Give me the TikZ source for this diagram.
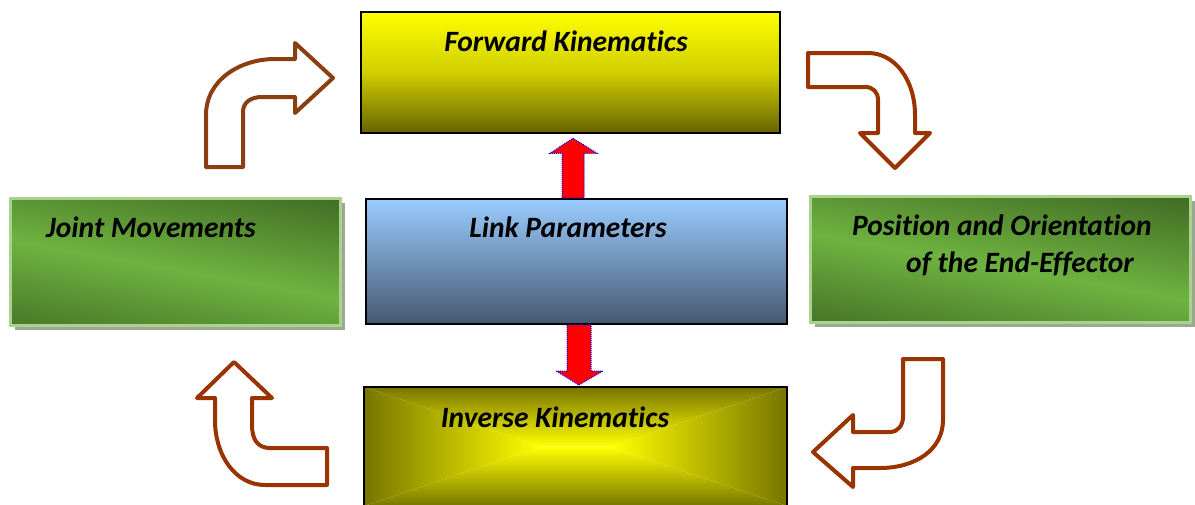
\documentclass[tikz,border=0pt]{standalone}
\usepackage{fontspec}
\setmainfont{Carlito}[Ligatures={NoCommon,NoContextual,NoRare}]
\usetikzlibrary{calc,shadows}
\definecolor{brownA}{RGB}{139,62,18}
\definecolor{brownB}{RGB}{153,51,0}
\definecolor{ylw}{RGB}{255,255,0}
\definecolor{ylwM}{RGB}{208,206,0}
\definecolor{olv}{RGB}{102,100,0}
\definecolor{olvB}{RGB}{120,117,0}
\definecolor{skyT}{RGB}{154,204,255}
\definecolor{skyB}{RGB}{68,87,111}
\definecolor{grD}{RGB}{68,112,38}
\definecolor{grL}{RGB}{110,178,64}
\definecolor{grBorder}{RGB}{168,210,142}
\definecolor{grShadow}{RGB}{156,168,146}
\pgfdeclareverticalshading{grsh}{520bp}{color(0bp)=(grD); color(25bp)=(grD); color(120bp)=(grL); color(215bp)=(grD); color(240bp)=(grD)}
\tikzset{
  txt/.style={font=\fontsize{29.5}{37}\selectfont\bfseries\itshape, inner sep=0pt, text=black, anchor=base},
  fkbox/.style={rectangle, draw=black, line width=2.5pt, top color=ylw, bottom color=olv, middle color=ylwM, minimum width=419pt, minimum height=121pt, inner sep=0pt},
  lpbox/.style={rectangle, draw=black, line width=1.8pt, top color=skyT, bottom color=skyB, minimum width=421pt, minimum height=125pt, inner sep=0pt},
  ikbox/.style={rectangle, draw=black, line width=2pt, minimum width=423pt, minimum height=119pt, inner sep=0pt,
    path picture={
      \coordinate (c1) at ($(path picture bounding box.center)+(-35,0)$);
      \coordinate (c2) at ($(path picture bounding box.center)+(35,0)$);
      \coordinate (nw) at (path picture bounding box.north west);
      \coordinate (ne) at (path picture bounding box.north east);
      \coordinate (sw) at (path picture bounding box.south west);
      \coordinate (se) at (path picture bounding box.south east);
      \shade[top color=olvB, bottom color=ylw] (nw) -- (ne) -- (c2) -- (c1) -- cycle;
      \shade[top color=ylw, bottom color=olvB] (sw) -- (se) -- (c2) -- (c1) -- cycle;
      \shade[left color=olvB, right color=ylw] (nw) -- (sw) -- (c1) -- cycle;
      \shade[left color=ylw, right color=olvB] (ne) -- (se) -- (c2) -- cycle;
    }},
  grbox/.style={rectangle, draw=grBorder, line width=3pt, fill=grD,
    drop shadow={shadow xshift=5pt, shadow yshift=-5pt, fill=grShadow, opacity=1}, inner sep=0pt,
    path picture={
      \node[rotate=-10, inner sep=0pt] at ($(path picture bounding box.center)+(0,8)$) {\pgfuseshading{grsh}};
    }},
  bend/.style={draw=#1, line width=4pt, line join=round, fill=white},
  redarrow/.style={fill=red, draw=blue, densely dotted, line width=1pt},
}
\begin{document}
\begin{tikzpicture}[x=1pt,y=-1pt]
\useasboundingbox (0,0) rectangle (1195,504);
\clip (0,0) rectangle (1195,504);
% boxes
\node[fkbox] (fk) at (570.5,72.5) {};
\node[lpbox] (lp) at (576.5,261.5) {};
\node[ikbox] (ik) at (575.5,446.5) {};
\node[grbox, minimum width=330pt, minimum height=127pt] (jm) at (175,261.5) {};
\node[grbox, minimum width=380pt, minimum height=126pt] (pos) at (1000,259) {};
% texts
\node[txt] (fkt) at (566,51) {Forward Kinematics};
\node[txt] (lpt) at (568,237) {Link Parameters};
\node[txt] (ikt) at (555,427) {Inverse Kinematics};
\node[txt] (jmt) at (151,237) {Joint Movements};
\node[txt, anchor=base west] (post1) at (852,235) {Position and Orientation};
\node[txt, anchor=base west] (post2) at (906,272) {of the End-Effector};
% red block arrows
\draw[redarrow] ($(lp.north)+(-14.5,0)$) -- ($(fk.south)+(-8.5,19)$) -- ($(fk.south)+(-20.5,19)$) -- ($(fk.south)+(2.5,4)$) -- ($(fk.south)+(26.5,19)$) -- ($(fk.south)+(13.5,19)$) -- ($(lp.north)+(7.5,0)$) -- cycle;
\draw[redarrow] ($(lp.south)+(-9.5,0)$) -- ($(ik.north)+(-8.5,-15)$) -- ($(ik.north)+(-19.5,-15)$) -- ($(ik.north)+(3.5,-1)$) -- ($(ik.north)+(27.5,-15)$) -- ($(ik.north)+(15.5,-15)$) -- ($(lp.south)+(14.5,0)$) -- cycle;
% curved block arrows
\draw[bend=brownA] (206,167) -- (206,115) .. controls (206,80) and (240,59) .. (275,59) -- (295,59) -- (295,43) -- (333,78) -- (295,113) -- (295,97) -- (262,97) .. controls (250,97) and (243,103) .. (243,112) -- (243,167) -- cycle;
\draw[bend=brownB] (808,53) -- (868,53) .. controls (895,53) and (915,80) .. (915,115) -- (915,133) -- (930,133) -- (895,168) -- (860,133) -- (878,133) -- (878,100) .. controls (878,92) and (873,87) .. (865,87) -- (808,87) -- cycle;
\draw[bend=brownB] (903,359) -- (943,359) -- (943,420) .. controls (943,450) and (915,468) .. (880,468) -- (853,468) -- (853,487) -- (813,452) -- (853,415) -- (853,432) -- (890,432) .. controls (898,432) and (903,425) .. (903,417) -- cycle;
\draw[bend=brownB] (234,362) -- (272,398) -- (252,398) -- (252,425) .. controls (252,440) and (258,448) .. (270,448) -- (327,448) -- (327,485) -- (265,485) .. controls (235,485) and (215,455) .. (215,420) -- (215,398) -- (197,398) -- cycle;
\end{tikzpicture}
\end{document}
